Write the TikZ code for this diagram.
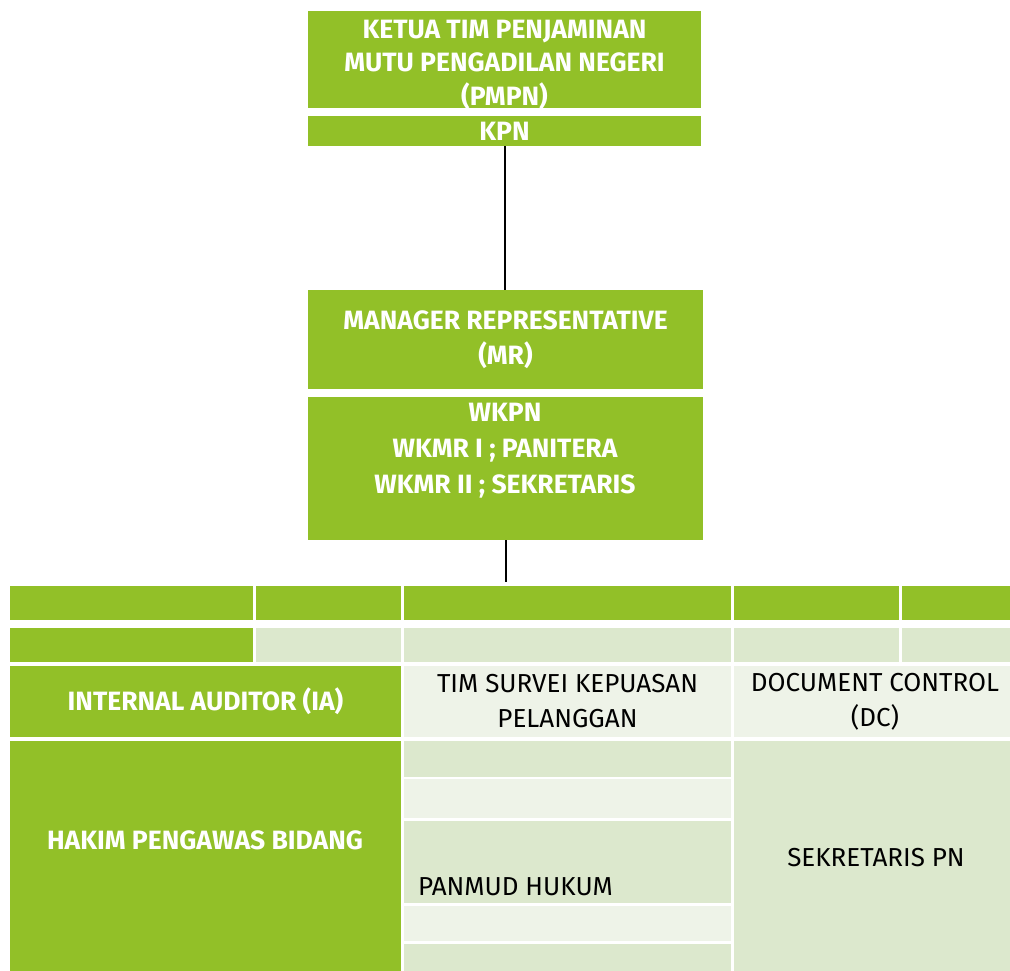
\documentclass[tikz,border=0pt]{standalone}
\usepackage{fontspec}
\setmainfont{Fira Sans}
\definecolor{gr}{RGB}{146,192,40}
\definecolor{lt}{RGB}{220,232,205}
\definecolor{pl}{RGB}{238,243,232}
\begin{document}
\begin{tikzpicture}[x=1pt,y=-1pt,
  cell/.style={anchor=north west,inner sep=0pt,outer sep=0pt},
  gcell/.style={cell,fill=gr},
  lcell/.style={cell,fill=lt},
  pcell/.style={cell,fill=pl},
  wtext/.style={text=white,font=\fontsize{26.5}{35}\selectfont\bfseries,align=center,inner sep=0pt},
  ktext/.style={text=black,font=\fontsize{26}{35}\selectfont,align=center,inner sep=0pt},
  conn/.style={draw=black,line width=2pt}]
\useasboundingbox (0,0) rectangle (1010,971);
% top boxes
\node[gcell,minimum width=393pt,minimum height=97pt] (ketua) at (308,11) {};
\node[wtext,font=\fontsize{26.5}{33.5}\selectfont\bfseries] (ketuatxt) at ([yshift=-5pt]ketua.center) {KETUA TIM PENJAMINAN\\MUTU PENGADILAN NEGERI\\(PMPN)};
\node[gcell,minimum width=393pt,minimum height=30pt] (kpn) at (308,116) {};
\node[wtext] (kpntxt) at (kpn.center) {KPN};
\node[gcell,minimum width=395pt,minimum height=99pt] (mr) at (308,290) {};
\node[wtext] (mrtxt) at (mr.center) {MANAGER REPRESENTATIVE\\(MR)};
\node[gcell,minimum width=395pt,minimum height=143pt] (wkpn) at (308,397) {};
\node[wtext,anchor=north,font=\fontsize{26.5}{36}\selectfont\bfseries] (wkpntxt) at (505,403) {WKPN\\WKMR I ; PANITERA\\WKMR II ; SEKRETARIS};
\coordinate (tabtop) at (505,582);
\draw[conn] (kpn.south) -- (kpn.south |- mr.north);
\draw[conn] (wkpn.south) -- (wkpn.south |- tabtop);
% row 1
\node[gcell,minimum width=243pt,minimum height=34pt] (r1a) at (10,586) {};
\node[gcell,minimum width=145pt,minimum height=34pt] (r1b) at (256,586) {};
\node[gcell,minimum width=327pt,minimum height=34pt] (r1c) at (404,586) {};
\node[gcell,minimum width=165pt,minimum height=34pt] (r1d) at (734,586) {};
\node[gcell,minimum width=108pt,minimum height=34pt] (r1e) at (902,586) {};
% row 2
\node[gcell,minimum width=243pt,minimum height=34pt] (r2a) at (10,628) {};
\node[lcell,minimum width=145pt,minimum height=34pt] (r2b) at (256,628) {};
\node[lcell,minimum width=327pt,minimum height=34pt] (r2c) at (404,628) {};
\node[lcell,minimum width=165pt,minimum height=34pt] (r2d) at (734,628) {};
\node[lcell,minimum width=108pt,minimum height=34pt] (r2e) at (902,628) {};
% row 3
\node[gcell,minimum width=391pt,minimum height=71pt] (ia) at (10,666) {};
\node[wtext] (iatxt) at (ia.center) {INTERNAL AUDITOR (IA)};
\node[pcell,minimum width=327pt,minimum height=71pt] (tim) at (404,666) {};
\node[ktext] (timtxt) at (tim.center) {TIM SURVEI KEPUASAN\\PELANGGAN};
\node[pcell,minimum width=276pt,minimum height=71pt] (dc) at (734,666) {};
\node[ktext] (dctxt) at ([xshift=3pt]dc.center) {DOCUMENT CONTROL\\(DC)};
% lower block
\node[gcell,minimum width=391pt,minimum height=230pt] (hakim) at (10,741) {};
\node[wtext] (hakimtxt) at (205,840) {HAKIM PENGAWAS BIDANG};
\node[lcell,minimum width=327pt,minimum height=36pt] (m1) at (404,741) {};
\node[pcell,minimum width=327pt,minimum height=39pt] (m2) at (404,779) {};
\node[lcell,minimum width=327pt,minimum height=82pt] (m3) at (404,821) {};
\node[ktext,anchor=base west] (panmud) at (418,895) {PANMUD HUKUM};
\node[pcell,minimum width=327pt,minimum height=35pt] (m4) at (404,906) {};
\node[lcell,minimum width=327pt,minimum height=27pt] (m5) at (404,944) {};
\node[lcell,minimum width=276pt,minimum height=230pt] (sek) at (734,741) {};
\node[ktext] (sektxt) at (876,858) {SEKRETARIS PN};
\end{tikzpicture}
\end{document}
